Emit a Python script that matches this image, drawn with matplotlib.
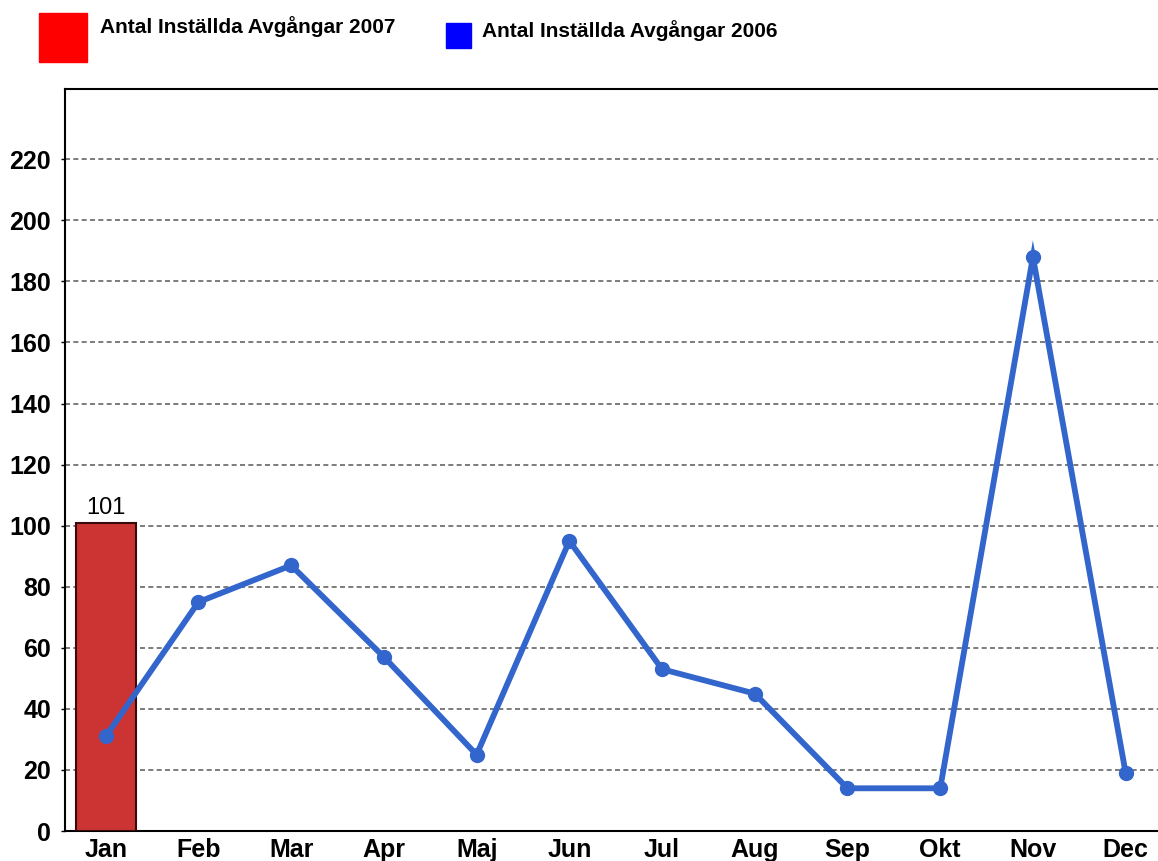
import matplotlib.pyplot as plt
import matplotlib.patches as mpatches

plt.rcParams['font.family'] = ['Liberation Sans', 'DejaVu Sans']

months = ['Jan', 'Feb', 'Mar', 'Apr', 'Maj', 'Jun', 'Jul', 'Aug', 'Sep', 'Okt', 'Nov', 'Dec']
values_2006 = [31, 75, 87, 57, 25, 95, 53, 45, 14, 14, 188, 19]
values_2007 = [101]
yticks = [0, 20, 40, 60, 80, 100, 120, 140, 160, 180, 200, 220]

fig = plt.figure(figsize=(11.58, 8.61), dpi=100)
ax = fig.add_axes([0.0561, 0.0348, 0.96, 0.8618])

x = list(range(len(months)))
ax.bar(x[:len(values_2007)], values_2007, width=0.65, color='#cc3333',
       edgecolor='#3a0a0a', linewidth=1.5, zorder=3)
ax.text(0, values_2007[0] + 1.2, str(values_2007[0]), ha='center', va='bottom', fontsize=17)
ax.plot(x, values_2006, color='#3366cc', linewidth=4.2, marker='o', markersize=10,
        solid_joinstyle='miter', zorder=4)

ax.set_xlim(-0.44, 11.55)
ax.set_ylim(0, 243)
ax.set_yticks(yticks)
ax.set_xticks(x)
ax.set_xticklabels(months)
ax.tick_params(axis='y', length=3, width=1, labelsize=18, pad=7)
ax.tick_params(axis='x', length=0, labelsize=18, pad=5)
for lab in ax.get_xticklabels() + ax.get_yticklabels():
    lab.set_fontweight('bold')
ax.yaxis.grid(True, linestyle='--', color='#666666', linewidth=1.2, dashes=(3, 2))
ax.set_axisbelow(True)
for s in ax.spines.values():
    s.set_linewidth(1.5)
ax.spines['right'].set_visible(False)

# legend boxes at top
fig.patches.append(mpatches.Rectangle((39 / 1158, 1 - 62 / 861), 48 / 1158, 49 / 861,
                                      transform=fig.transFigure, color='#ff0000'))
fig.text(100 / 1158, 1 - 27 / 861, 'Antal Inställda Avgångar 2007', fontsize=15,
         fontweight='bold', va='center')
fig.patches.append(mpatches.Rectangle((446 / 1158, 1 - 48 / 861), 25 / 1158, 25 / 861,
                                      transform=fig.transFigure, color='#0000ff'))
fig.text(482 / 1158, 1 - 31 / 861, 'Antal Inställda Avgångar 2006', fontsize=15,
         fontweight='bold', va='center')

fig.savefig('out.png', dpi=100)
